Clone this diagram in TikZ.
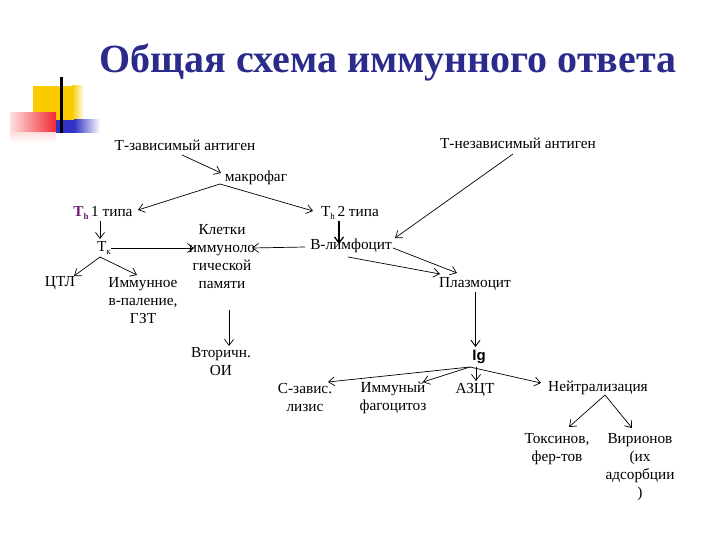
\documentclass[tikz,border=0pt]{standalone}
\usepackage{fontspec}
\setmainfont{Liberation Serif}
\setsansfont{Liberation Sans}
\usetikzlibrary{arrows.meta,calc}
\definecolor{titleblue}{RGB}{43,43,140}
\definecolor{thpurple}{RGB}{110,30,120}
\definecolor{decoyellow}{RGB}{250,204,0}
\definecolor{decored}{RGB}{240,40,50}
\definecolor{decoblue}{RGB}{50,50,200}
\newcommand{\Th}{T\raisebox{-0.35ex}{\fontsize{9}{10}\selectfont h}}
\begin{document}
\begin{tikzpicture}[x=1pt,y=-1pt,
  lbl/.style={inner sep=0pt, font=\fontsize{15.3}{18}\selectfont, align=center},
  arr/.style={-{Straight Barb[length=6pt,width=9pt]}, line width=0.7pt},
  thickarr/.style={arr, line width=1.3pt},
]
\useasboundingbox (0,0) rectangle (720,540);
% decoration
\fill[decoyellow] (33,86) rectangle (72,121);
\shade[left color=decoyellow, right color=white] (72,86) rectangle (84,121);
\shade[left color=red!12, right color=decored] (10,113) rectangle (56,133);
\shade[top color=red!12, bottom color=white] (10,133) rectangle (56,143);
\fill[decoblue] (56,120) rectangle (74,133);
\shade[left color=decoblue, right color=white] (74,120) rectangle (100,133);
\fill[black] (60,77) rectangle (63,133);
% title
\node[anchor=base, inner sep=0pt, font=\fontsize{40}{48}\selectfont\bfseries, text=titleblue] (title) at (388,73) {Общая схема иммунного ответа};
% nodes
\node[lbl] (tza) at (185,145) {Т-зависимый антиген};
\node[lbl] (tnza) at (518,143) {Т-независимый антиген};
\node[lbl] (makro) at (256,178) {макрофаг};
\node[lbl] (th1) at (103,213) {{\color{thpurple}\bfseries\Th}\,1 типа};
\node[lbl] (th2) at (350,213) {\Th\,2 типа};
\node[lbl] (tk) at (104,248) {T\raisebox{-0.35ex}{\fontsize{9}{10}\selectfont к}};
\node[lbl] (klet) at (222,257) {Клетки\\иммуноло\\гической\\памяти};
\node[lbl] (blimf) at (351,246) {В-лимфоцит};
\node[lbl] (plasma) at (475,284) {Плазмоцит};
\node[lbl] (ctl) at (60,283) {ЦТЛ};
\node[lbl] (immun) at (143,301) {Иммунное\\в-паление,\\ГЗТ};
\node[lbl] (vtor) at (221,362) {Вторичн.\\ОИ};
\node[lbl, font=\fontsize{15}{18}\selectfont\sffamily\bfseries] (ig) at (479,357) {Ig};
\node[lbl] (szav) at (305,398) {С-завис.\\лизис};
\node[lbl] (ifag) at (393,398) {Иммуный\\фагоцитоз};
\node[lbl] (azct) at (475,390) {АЗЦТ};
\node[lbl] (neutr) at (598,388) {Нейтрализация};
\node[lbl] (tox) at (557,449) {Токсинов,\\фер-тов};
\node[lbl] (vir) at (640,467) {Вирионов\\(их\\адсорбции\\)};
% connectors
\draw[arr] ($(tza)+(-3,10)$) -- ($(makro)+(-35,-5)$);
\draw[arr] ($(makro)+(-36,6)$) -- ($(th1)+(35,-3)$);
\draw[arr] ($(makro)+(-36,6)$) -- ($(th2)+(-37,-2)$);
\draw[arr] ($(th1)+(-3,8)$) -- ($(tk)+(-4,-9)$);
\draw[arr] ($(tk)+(7,0)$) -- ($(klet)+(-28,-9)$);
\draw[arr] ($(blimf)+(-46,1)$) -- ($(klet)+(30,-9)$);
\draw[arr] ($(tk)+(-4,9)$) -- ($(ctl)+(14,-7)$);
\draw[arr] ($(tk)+(-4,9)$) -- ($(immun)+(-6,-26)$);
\draw[thickarr] ($(th2)+(-11,8)$) -- ($(blimf)+(-12,-2)$);
\draw[arr] ($(tnza)+(-5,11)$) -- ($(blimf)+(44,-8)$);
\draw[arr] ($(blimf)+(42,2)$) -- ($(plasma)+(-18,-11)$);
\draw[arr] ($(blimf)+(-3,11)$) -- ($(plasma)+(-35,-10)$);
\draw[arr] ($(klet)+(7,53)$) -- ($(vtor)+(8,-16)$);
\draw[arr, line width=0.9pt] ($(plasma)+(0.5,8)$) -- ($(ig)+(-3.5,-10)$);
\draw[arr] ($(ig)+(-9,10)$) -- ($(szav)+(23,-16)$);
\draw[arr] ($(ig)+(-9,10)$) -- ($(ifag)+(30,-16)$);
\draw[arr] ($(ig)+(-3,10)$) -- ($(azct)+(1,-9)$);
\draw[arr] ($(ig)+(-9,10)$) -- ($(neutr)+(-57,-5)$);
\draw[arr] ($(neutr)+(7,7)$) -- ($(tox)+(12,-22)$);
\draw[arr] ($(neutr)+(7,7)$) -- ($(vir)+(-8,-39)$);
\end{tikzpicture}
\end{document}
